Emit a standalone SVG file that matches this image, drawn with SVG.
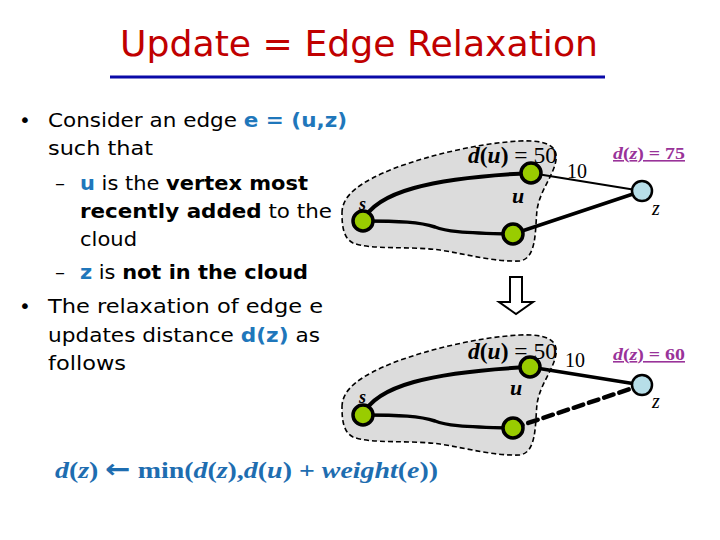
<svg xmlns="http://www.w3.org/2000/svg" width="720" height="540" viewBox="0 0 720 540">
<style>
.body{font-family:"DejaVu Sans","Open Sans",sans-serif;font-size:20px;fill:#000}
.blue{fill:#1F77BB;font-weight:bold}
.b{font-weight:bold}
.tm{font-family:"Liberation Serif","Times New Roman",serif;fill:#000}
.it{font-style:italic}
.cloud{fill:#DCDCDC;stroke:#000;stroke-width:1.6;stroke-dasharray:5 3}
.edge{fill:none;stroke:#000;stroke-linecap:round}
.g{fill:#99CC00;stroke:#000;stroke-width:3.5}
.zn{fill:#B7DEE8;stroke:#000;stroke-width:2.5}
.dz{font-family:"Liberation Serif","Times New Roman",serif;font-size:16px;font-weight:bold;fill:#993399;text-decoration:underline}
</style>
<defs>
<path id="cloudShape" d="M342,213 C342,195 360,182 395,168 C430,155 480,143 520,141 C545,140 558,145 556,160 C554,175 540,190 537,210 C535,230 537,258 520,261 C495,262 470,255 440,250 C410,246 370,250 353,243 C343,238 342,225 342,213 Z"/>
</defs>
<rect width="720" height="540" fill="#fff"/>
<g id="title">
<text x="120" y="56" font-family="DejaVu Sans, sans-serif" font-size="36" fill="#C00000" textLength="478" lengthAdjust="spacingAndGlyphs">Update = Edge Relaxation</text>
<rect x="110" y="75.5" width="495" height="3" fill="#0A0AA8"/>
</g>
<g id="bullets" class="body">
<text x="19" y="127" font-size="20">•</text>
<text x="48" y="127" textLength="299" lengthAdjust="spacingAndGlyphs">Consider an edge <tspan class="blue">e = (u,z)</tspan></text>
<text x="48" y="155" textLength="105" lengthAdjust="spacingAndGlyphs">such that</text>
<text x="55" y="190">–</text>
<text x="80" y="190" textLength="228" lengthAdjust="spacingAndGlyphs"><tspan class="blue">u</tspan> is the <tspan class="b">vertex most</tspan></text>
<text x="80" y="218" textLength="252" lengthAdjust="spacingAndGlyphs"><tspan class="b">recently added</tspan> to the</text>
<text x="80" y="246" textLength="57" lengthAdjust="spacingAndGlyphs">cloud</text>
<text x="55" y="279">–</text>
<text x="80" y="279" textLength="228" lengthAdjust="spacingAndGlyphs"><tspan class="blue">z</tspan> is <tspan class="b">not in the cloud</tspan></text>
<text x="19" y="313" font-size="20">•</text>
<text x="48" y="313" textLength="275" lengthAdjust="spacingAndGlyphs">The relaxation of edge e</text>
<text x="48" y="342" textLength="272" lengthAdjust="spacingAndGlyphs">updates distance <tspan class="blue">d(z)</tspan> as</text>
<text x="48" y="370" textLength="78" lengthAdjust="spacingAndGlyphs">follows</text>
</g>
<g id="formula">
<text x="55" y="478" class="tm" font-size="24" font-weight="bold" style="fill:#1E6DB0" textLength="383" lengthAdjust="spacingAndGlyphs"><tspan class="it">d</tspan>(<tspan class="it">z</tspan>) <tspan font-family="DejaVu Sans, sans-serif" font-size="26">←</tspan> min(<tspan class="it">d</tspan>(<tspan class="it">z</tspan>),<tspan class="it">d</tspan>(<tspan class="it">u</tspan>) + <tspan class="it">weight</tspan>(<tspan class="it">e</tspan>))</text>
</g>
<g id="clouds">
<use href="#cloudShape" class="cloud"/>
<use href="#cloudShape" class="cloud" transform="translate(0,194)"/>
</g>
<g id="labels" class="tm">
<text x="468" y="163" font-size="24" textLength="89" lengthAdjust="spacingAndGlyphs"><tspan font-weight="bold"><tspan class="it">d</tspan>(<tspan class="it">u</tspan>)</tspan> = 50</text>
<text x="567" y="178" font-size="20">10</text>
<text x="512" y="203" font-size="22" font-weight="bold" font-style="italic">u</text>
<text x="359" y="210" font-size="18" font-weight="bold" font-style="italic">s</text>
<text x="652" y="215" font-size="20" font-style="italic">z</text>
<text x="613" y="159" class="dz" textLength="72" lengthAdjust="spacingAndGlyphs"><tspan class="it">d</tspan>(<tspan class="it">z</tspan>) = 75</text>
<text x="468" y="359" font-size="24" textLength="89" lengthAdjust="spacingAndGlyphs"><tspan font-weight="bold"><tspan class="it">d</tspan>(<tspan class="it">u</tspan>)</tspan> = 50</text>
<text x="565" y="367" font-size="20">10</text>
<text x="510" y="395" font-size="22" font-weight="bold" font-style="italic">u</text>
<text x="359" y="403" font-size="18" font-weight="bold" font-style="italic">s</text>
<text x="652" y="408" font-size="20" font-style="italic">z</text>
<text x="613" y="360" class="dz" textLength="72" lengthAdjust="spacingAndGlyphs"><tspan class="it">d</tspan>(<tspan class="it">z</tspan>) = 60</text>
</g>
<g id="connectors">
<path class="edge" stroke-width="4" d="M363,221 C376,192 430,178 531,173"/>
<path class="edge" stroke-width="3.5" d="M363,221 C400,221 420,222 435,227 C445,231 460,233 513,234"/>
<path class="edge" stroke-width="2" d="M531,173 L642,191"/>
<path class="edge" stroke-width="3.5" d="M513,234 L642,191"/>
<path class="edge" stroke-width="4" d="M363,415 C376,386 430,372 530,367"/>
<path class="edge" stroke-width="3.5" d="M363,415 C400,415 420,416 435,421 C445,425 460,427 513,428"/>
<path class="edge" stroke-width="3.5" d="M530,367 L642,385"/>
<path class="edge" stroke-width="4.5" stroke-linecap="butt" stroke-dasharray="10 6" d="M513,428 L642,385"/>
<polygon points="510,277 522,277 522,302 533,302 516,314 499,302 510,302" fill="#fff" stroke="#000" stroke-width="2"/>
</g>
<g id="node-s1"><circle cx="363" cy="221" r="10" class="g"/></g>
<g id="node-u1"><circle cx="531" cy="173" r="10" class="g"/></g>
<g id="node-v1"><circle cx="513" cy="234" r="10" class="g"/></g>
<g id="node-z1"><circle cx="642" cy="191" r="10" class="zn"/></g>
<g id="node-s2"><circle cx="363" cy="415" r="10" class="g"/></g>
<g id="node-u2"><circle cx="530" cy="367" r="10" class="g"/></g>
<g id="node-v2"><circle cx="513" cy="428" r="10" class="g"/></g>
<g id="node-z2"><circle cx="642" cy="385" r="10" class="zn"/></g>
</svg>
